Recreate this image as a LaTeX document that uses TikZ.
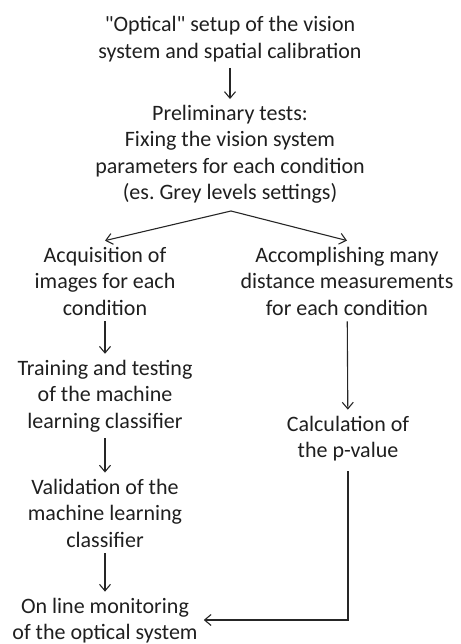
\documentclass[tikz,border=0pt]{standalone}
\usepackage{fontspec}
\setmainfont{Carlito}[Ligatures=TeXOff]
\frenchspacing
\usetikzlibrary{arrows.meta}
\begin{document}
\begin{tikzpicture}[x=1pt,y=-1pt,
  step text/.style={align=center,font=\fontsize{22}{26.5}\selectfont,inner sep=6pt,text=black!88},
  arr/.style={-{Straight Barb[length=6.5pt,width=11pt]},line width=1.1pt,draw=black!85}]
\useasboundingbox (0,0) rectangle (460,644);
\node[step text] (setup)  at (230,39)    {"Optical" setup of the vision\\system and spatial calibration};
\node[step text] (prelim) at (230,154.5) {Preliminary tests:\\Fixing the vision system\\parameters for each condition\\(es. Grey levels settings)};
\node[step text] (acq)    at (105,281)   {Acquisition of\\images for each\\condition};
\node[step text] (acc)    at (347,281)   {Accomplishing many\\distance measurements\\for each condition};
\node[step text] (train)  at (105,396)   {Training and testing\\of the machine\\learning classifier};
\node[step text] (calc)   at (348,438.5) {Calculation of\\the p-value};
\node[step text] (valid)  at (105,513)   {Validation of the\\machine learning\\classifier};
\node[step text] (online) at (105,620.5) {On line monitoring\\of the optical system};
\coordinate (split) at (231,211);
\draw[arr] (setup) -- (prelim);
\draw[arr] (split) -- (acq.north);
\draw[arr] (split) -- (acc.north);
\draw[arr] (acq) -- (train);
\draw[arr] (train) -- (valid);
\draw[arr] (valid) -- (online);
\draw[arr] (acc) -- (calc);
\draw[arr,shorten <=4pt] (calc.south) |- ([yshift=0.5pt]online.east);
\end{tikzpicture}
\end{document}
